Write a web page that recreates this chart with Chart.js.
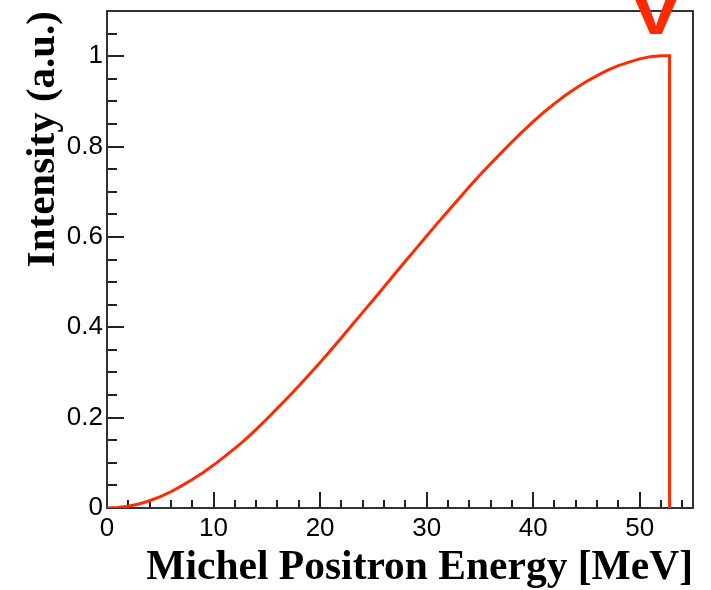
<!DOCTYPE html>
<html>
<head>
<meta charset="utf-8">
<script src="https://cdn.jsdelivr.net/npm/chart.js@4.4.1/dist/chart.umd.min.js"></script>
<style>
html,body{margin:0;padding:0;background:#fff;}
canvas{display:block;}
</style>
</head>
<body>
<canvas id="c" width="711" height="590"></canvas>
<script>
// ---- data ----
const energy = [0,1,2,3,4,5,6,7,8,9,10,11,12,13,14,15,16,17,18,19,20,21,22,23,24,25,26,27,28,29,30,31,32,33,34,35,36,37,38,39,40,41,42,43,44,45,46,47,48,49,50,51,52,52.8,52.8];
const intensity = [0,0.001,0.004,0.009,0.016,0.025,0.036,0.049,0.063,0.078,0.095,0.113,0.132,0.152,0.174,0.197,0.221,0.245,0.270,0.296,0.322,0.349,0.377,0.405,0.433,0.461,0.489,0.518,0.546,0.574,0.602,0.630,0.657,0.684,0.711,0.737,0.762,0.786,0.810,0.833,0.855,0.876,0.895,0.913,0.929,0.944,0.957,0.969,0.979,0.987,0.994,0.999,1.001,1.001,0];
const xTicks = [0,10,20,30,40,50];
const yTicks = [0,0.2,0.4,0.6,0.8,1];
const xTickLabels = ['0','10','20','30','40','50'];
const yTickLabels = ['0','0.2','0.4','0.6','0.8','1'];
const xMinorStep = 2;
const yMinorStep = 0.05;
const xTitle = 'Michel Positron Energy [MeV]';
const yTitle = 'Intensity (a.u.)';
const cornerMark = 'V';

const points = energy.map((e,i)=>({x:e, y:intensity[i]}));

const framePlugin = {
  id:'frame',
  beforeDatasetsDraw(chart){
    const {ctx, chartArea:a, scales:{x, y}} = chart;
    ctx.save();
    ctx.strokeStyle = '#222';
    ctx.lineWidth = 2;
    ctx.lineCap = 'butt';
    ctx.beginPath();
    for (let v = 0; v <= x.max + 1e-9; v += xMinorStep) {
      const px = Math.round(x.getPixelForValue(v));
      const major = Math.abs(v/10 - Math.round(v/10)) < 1e-6;
      const len = major ? 16 : 8;
      ctx.moveTo(px, a.bottom);
      ctx.lineTo(px, a.bottom - len);
    }
    for (let k = 0; k*yMinorStep <= y.max + 1e-9; k++) {
      const v = k*yMinorStep;
      const py = Math.round(y.getPixelForValue(v));
      const major = k % 4 === 0;
      const len = major ? 17 : 10;
      ctx.moveTo(a.left, py);
      ctx.lineTo(a.left + len, py);
    }
    ctx.stroke();
    ctx.strokeStyle = '#333';
    ctx.lineWidth = 2;
    ctx.strokeRect(a.left, a.top, a.right - a.left, a.bottom - a.top);
    ctx.restore();
  },
  afterDraw(chart){
    const ctx = chart.ctx;
    ctx.save();
    ctx.fillStyle = '#ff2a00';
    ctx.font = 'bold 66px "Liberation Sans"';
    ctx.textAlign = 'center';
    ctx.textBaseline = 'alphabetic';
    ctx.translate(656, 34);
    ctx.scale(1.2, 1);
    ctx.fillText(cornerMark, 0, 0);
    ctx.restore();
  }
};

new Chart(document.getElementById('c'), {
  type:'line',
  data:{
    datasets:[{
      data: points,
      borderColor:'#ff2a00',
      borderWidth:3,
      pointRadius:0,
      fill:false,
      tension:0
    }]
  },
  options:{
    responsive:false,
    animation:false,
    devicePixelRatio:1,
    layout:{padding:{left:0,right:18,top:11,bottom:0}},
    plugins:{legend:{display:false}, tooltip:{enabled:false}},
    scales:{
      x:{
        type:'linear', min:0, max:55,
        grid:{display:false, drawTicks:false},
        border:{display:false},
        ticks:{
          font:{family:'"Liberation Sans"', size:26},
          color:'#000', padding:5, maxRotation:0, autoSkip:false, includeBounds:false,
          callback:(v)=>{const i = xTicks.indexOf(v); return i>=0 ? xTickLabels[i] : '';}
        },
        afterBuildTicks:(s)=>{ s.ticks = xTicks.map(v=>({value:v})); },
        afterFit:(s)=>{ s.height = 82; s.paddingLeft = 0; s.paddingRight = 0; },
        title:{display:true, text:xTitle, align:'end', color:'#000',
          font:{family:'"Liberation Serif"', size:41.5, weight:'bold', lineHeight:1},
          padding:{top:0,bottom:1}}
      },
      y:{
        type:'linear', min:0, max:1.1,
        grid:{display:false, drawTicks:false},
        border:{display:false},
        ticks:{
          font:{family:'"Liberation Sans"', size:26},
          color:'#000', padding:4, autoSkip:false, includeBounds:false,
          callback:(v)=>{const i = yTicks.findIndex(t=>Math.abs(t-v)<1e-9); return i>=0 ? yTickLabels[i] : '';}
        },
        afterBuildTicks:(s)=>{ s.ticks = yTicks.map(v=>({value:v})); },
        afterFit:(s)=>{ s.width = 107; s.paddingTop = 0; s.paddingBottom = 0; },
        title:{display:true, text:yTitle, align:'end', color:'#000',
          font:{family:'"Liberation Serif"', size:41, weight:'bold', lineHeight:1},
          padding:{top:23,bottom:0}}
      }
    }
  },
  plugins:[framePlugin]
});
</script>
</body>
</html>
